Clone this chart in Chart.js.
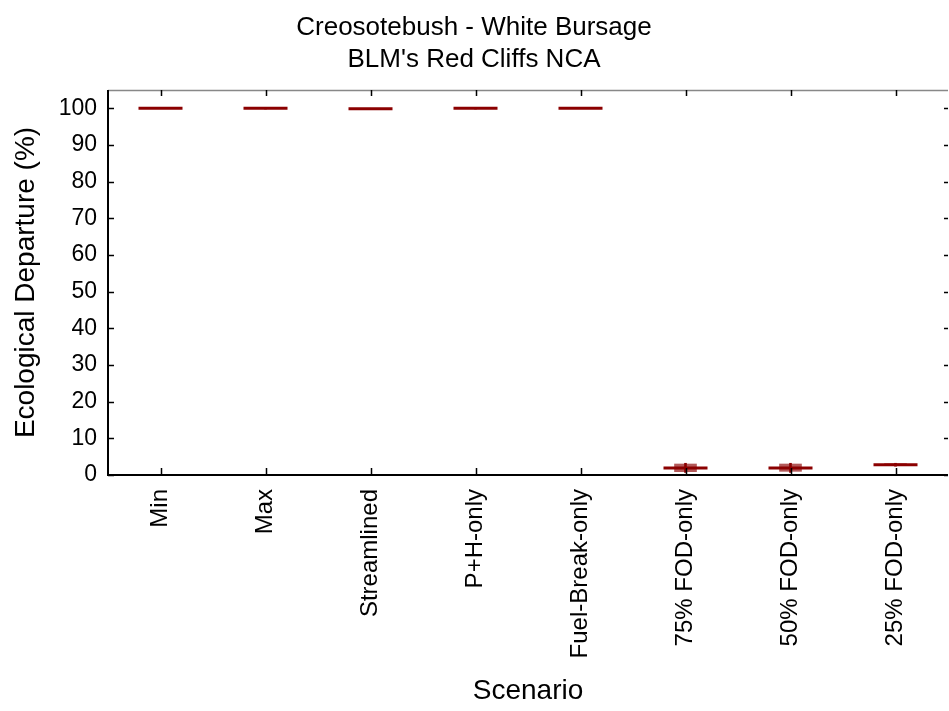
<!DOCTYPE html>
<html>
<head>
<meta charset="utf-8">
<title>Creosotebush - White Bursage</title>
<script src="https://cdn.jsdelivr.net/npm/chart.js@4.4.1/dist/chart.umd.min.js"></script>
<style>
  html, body { margin: 0; padding: 0; background: #fff; }
  #wrap { width: 949px; height: 711px; }
</style>
</head>
<body>
<div id="wrap"><canvas id="boxCanvas" width="949" height="711"></canvas></div>
<script>
let scenarios = ['Min', 'Max', 'Streamlined', 'P+H-only', 'Fuel-Break-only',
    '75% FOD-only', '50% FOD-only', '25% FOD-only'];

// five-number summaries per scenario (% departure)
let lowVals = [100, 99.8, 99.7, 99.8, 100, 0.7, 0.7, 2.4];
let q1Vals = [100, 99.9, 99.8, 99.9, 100, 0.9, 1.0, 2.6];
let medianVals = [100, 100, 99.9, 100, 100, 1.9, 1.9, 2.8];
let q3Vals = [100, 100, 100, 100, 100, 3.0, 3.0, 3.1];
let highVals = [100, 100, 100, 100, 100, 3.2, 3.2, 3.2];

let yTicks = [0, 10, 20, 30, 40, 50, 60, 70, 80, 90, 100];

let boxRanges = scenarios.map(function (s, i) { return [q1Vals[i], q3Vals[i]]; });
let whiskerRanges = scenarios.map(function (s, i) { return [lowVals[i], highVals[i]]; });

let darkRed = '#8b0000';
let fontFamily = 'Liberation Sans, Arial, sans-serif';

// frame with inward tick marks on all four sides
let frameTicks = {
    id: 'frameTicks',
    afterDraw: function (chart) {
        let ctx = chart.ctx;
        let a = chart.chartArea;
        let x = chart.scales.x;
        let y = chart.scales.y;
        ctx.save();
        ctx.lineCap = 'butt';

        ctx.strokeStyle = '#888';
        ctx.lineWidth = 1.5;
        ctx.beginPath();
        ctx.moveTo(a.left, a.top + 0.5);
        ctx.lineTo(a.right, a.top + 0.5);
        ctx.stroke();

        ctx.strokeStyle = '#000';
        ctx.lineWidth = 2;
        ctx.beginPath();
        ctx.moveTo(a.left, a.top);
        ctx.lineTo(a.left, a.bottom);
        ctx.lineTo(a.right, a.bottom);
        ctx.stroke();

        ctx.lineWidth = 1.5;
        ctx.beginPath();
        yTicks.forEach(function (v) {
            let py = Math.round(y.getPixelForValue(v)) + 0.5;
            ctx.moveTo(a.left, py);
            ctx.lineTo(a.left + 6, py);
            ctx.moveTo(a.right, py);
            ctx.lineTo(a.right - 4, py);
        });
        scenarios.forEach(function (s, i) {
            let px = Math.round(x.getPixelForValue(i)) + 0.5;
            ctx.moveTo(px, a.bottom);
            ctx.lineTo(px, a.bottom - 7);
            ctx.moveTo(px, a.top);
            ctx.lineTo(px, a.top + 6);
        });
        ctx.stroke();
        ctx.restore();
    }
};

let ctx = document.getElementById('boxCanvas').getContext('2d');

window.boxChart = new Chart(ctx, {
    type: 'bar',
    data: {
        labels: scenarios,
        datasets: [
            {
                label: 'whisker',
                data: whiskerRanges,
                backgroundColor: darkRed,
                barThickness: 2,
                grouped: false,
                order: 3
            },
            {
                label: 'box',
                data: boxRanges,
                backgroundColor: 'rgba(139, 0, 0, 0.65)',
                barThickness: 22,
                grouped: false,
                order: 2
            },
            {
                type: 'line',
                label: 'median',
                data: medianVals,
                showLine: false,
                pointStyle: 'line',
                pointRadius: 22,
                pointHoverRadius: 22,
                pointBorderWidth: 3,
                borderColor: darkRed,
                backgroundColor: darkRed,
                order: 1
            }
        ]
    },
    options: {
        responsive: false,
        animation: false,
        events: [],
        layout: {
            autoPadding: false,
            padding: { left: 0, right: 1, top: 0, bottom: 0 }
        },
        plugins: {
            legend: { display: false },
            tooltip: { enabled: false },
            title: {
                display: true,
                text: ['Creosotebush - White Bursage', "BLM's Red Cliffs NCA"],
                color: '#000',
                font: { family: fontFamily, size: 26, weight: 'normal', lineHeight: 1.23 },
                padding: { top: 12, bottom: 14 }
            }
        },
        scales: {
            x: {
                grid: { display: false },
                border: { display: false },
                ticks: {
                    color: '#000',
                    font: { family: fontFamily, size: 24 },
                    minRotation: 90,
                    maxRotation: 90,
                    padding: 6,
                    autoSkip: false
                },
                title: {
                    display: true,
                    text: 'Scenario',
                    color: '#000',
                    font: { family: fontFamily, size: 28 },
                    padding: { top: 10, bottom: 3 }
                },
                afterFit: function (scale) {
                    scale.height = 236;
                    scale.paddingLeft = 0;
                    scale.paddingRight = 0;
                }
            },
            y: {
                min: 0,
                max: 105,
                grid: { display: false },
                border: { display: false },
                afterBuildTicks: function (scale) {
                    scale.ticks = yTicks.map(function (v) { return { value: v }; });
                },
                ticks: {
                    color: '#000',
                    font: { family: fontFamily, size: 23 },
                    padding: 3
                },
                title: {
                    display: true,
                    text: 'Ecological Departure (%)',
                    color: '#000',
                    font: { family: fontFamily, size: 28 },
                    padding: { top: 9, bottom: 4 }
                },
                afterFit: function (scale) {
                    scale.width = 108;
                    scale.paddingTop = 0;
                    scale.paddingBottom = 0;
                }
            }
        }
    },
    plugins: [frameTicks]
});
</script>
</body>
</html>
